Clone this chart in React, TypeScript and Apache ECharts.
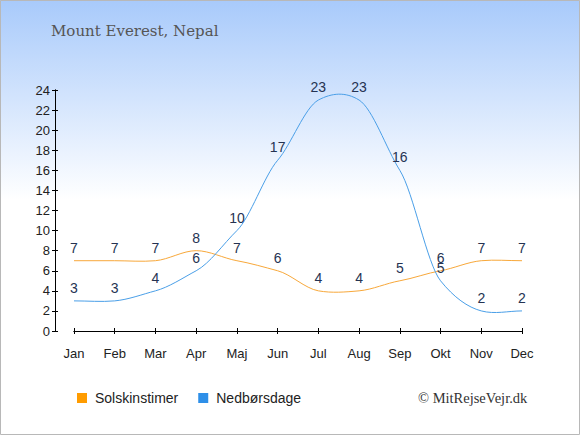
import React, { useEffect, useRef } from "react";
import * as echarts from "echarts";

const months = ["Jan", "Feb", "Mar", "Apr", "Maj", "Jun", "Jul", "Aug", "Sep", "Okt", "Nov", "Dec"];
const sunHours = [7, 7, 7, 8, 7, 6, 4, 4, 5, 6, 7, 7];
const rainDays = [3, 3, 4, 6, 10, 17, 23, 23, 16, 5, 2, 2];
const yTicks = { min: 0, max: 24, interval: 2 };
const titleText = "Mount Everest, Nepal";
const sunName = "Solskinstimer";
const rainName = "Nedbørsdage";
const copyright = "© MitRejseVejr.dk";

const SANS = "'Liberation Sans', Arial, sans-serif";
const SERIF = "'DejaVu Serif', 'Liberation Serif', serif";
const SERIF2 = "'Liberation Serif', serif";

const SUN_COLOR = "#ff9c00";
const SUN_LINE = "#f8a83a";
const RAIN_COLOR = "#2e8fe8";
const RAIN_LINE = "#4a9fe8";
const TENSION = 0.12;

function curveRenderer(values: number[], stroke: string) {
  return (params: any, api: any) => {
    if (params.dataIndex !== 0) return null;
    const pts = values.map((v, i) => api.coord([i, v]));
    const n = pts.length;
    let d = `M${pts[0][0]},${pts[0][1]}`;
    for (let i = 0; i < n - 1; i++) {
      const p0 = pts[Math.max(0, i - 1)];
      const p1 = pts[i];
      const p2 = pts[i + 1];
      const p3 = pts[Math.min(n - 1, i + 2)];
      const dx = (p2[0] - p1[0]) / 3;
      const c1x = p1[0] + dx;
      const c1y = p1[1] + (p2[1] - p0[1]) * TENSION;
      const c2x = p2[0] - dx;
      const c2y = p2[1] - (p3[1] - p1[1]) * TENSION;
      d += ` C${c1x},${c1y} ${c2x},${c2y} ${p2[0]},${p2[1]}`;
    }
    return {
      type: "path",
      shape: { pathData: d },
      style: { fill: "none", stroke, lineWidth: 1 },
      silent: true,
    };
  };
}

export default function App() {
  const ref = useRef<HTMLDivElement>(null);
  useEffect(() => {
    document.body.style.margin = "0";
    const chart = echarts.init(ref.current!, null, { renderer: "svg" });
    const xBase = {
      type: "category" as const,
      data: months,
      boundaryGap: false,
      position: "bottom" as const,
      offset: 10,
      axisLine: { lineStyle: { color: "#000", width: 1 } },
      splitLine: { show: false },
    };
    const yBase = {
      type: "value" as const,
      min: yTicks.min,
      max: yTicks.max,
      interval: yTicks.interval,
      position: "left" as const,
      offset: 19,
      axisLine: { show: true, lineStyle: { color: "#000", width: 1 } },
      splitLine: { show: false },
    };
    const labelStyle = {
      show: true,
      position: "top" as const,
      distance: 6,
      color: "#253352",
      fontSize: 14,
      fontFamily: SANS,
    };
    chart.setOption({
      animation: false,
      backgroundColor: {
        type: "linear",
        x: 0, y: 0, x2: 0, y2: 1,
        colorStops: [
          { offset: 0, color: "#a8cafb" },
          { offset: 0.46, color: "#ffffff" },
          { offset: 1, color: "#ffffff" },
        ],
      },
      grid: { left: 74, right: 58, top: 90, bottom: 104, containLabel: false },
      xAxis: [
        {
          ...xBase,
          axisTick: { show: true, length: 3, inside: false, lineStyle: { color: "#000" } },
          axisLabel: { color: "#222", fontSize: 13, fontFamily: SANS, margin: 6 },
        },
        {
          ...xBase,
          axisTick: { show: true, length: 3, inside: true, lineStyle: { color: "#000" } },
          axisLabel: { show: false },
        },
      ],
      yAxis: [
        {
          ...yBase,
          axisTick: { show: true, length: 3, inside: false, lineStyle: { color: "#000" } },
          axisLabel: { color: "#222", fontSize: 13, fontFamily: SANS, margin: 5 },
        },
        {
          ...yBase,
          axisTick: { show: true, length: 3, inside: true, lineStyle: { color: "#000" } },
          axisLabel: { show: false },
        },
      ],
      legend: {
        left: 72,
        top: 386,
        itemWidth: 10,
        itemHeight: 10,
        itemGap: 20,
        icon: "rect",
        textStyle: { color: "#222", fontSize: 14, fontFamily: SANS, padding: [0, 0, 0, 3] },
        data: [
          { name: sunName, itemStyle: { color: SUN_COLOR } },
          { name: rainName, itemStyle: { color: RAIN_COLOR } },
        ],
      },
      graphic: [
        {
          type: "rect",
          shape: { x: 0.5, y: 0.5, width: 579, height: 434 },
          style: { fill: "none", stroke: "#b8b8b8", lineWidth: 1 },
          silent: true,
        },
        {
          type: "text",
          left: 51,
          top: 23,
          style: { text: titleText, fill: "#555", font: `15px ${SERIF}` },
        },
        {
          type: "text",
          left: 418,
          top: 390,
          style: { text: copyright, fill: "#333", font: `14.5px ${SERIF2}` },
        },
      ],
      series: [
        {
          name: sunName,
          type: "line",
          data: sunHours,
          symbol: "circle",
          symbolSize: 0.01,
          showSymbol: true,
          color: SUN_COLOR,
          itemStyle: { color: SUN_COLOR },
          lineStyle: { opacity: 0 },
          label: labelStyle,
          z: 4,
        },
        {
          name: rainName,
          type: "line",
          data: rainDays,
          symbol: "circle",
          symbolSize: 0.01,
          showSymbol: true,
          color: RAIN_COLOR,
          itemStyle: { color: RAIN_COLOR },
          lineStyle: { opacity: 0 },
          label: labelStyle,
          z: 4,
        },
        {
          name: sunName + "-curve",
          type: "custom",
          data: sunHours.map((v, i) => [i, v]),
          renderItem: curveRenderer(sunHours, SUN_LINE),
          z: 3,
        },
        {
          name: rainName + "-curve",
          type: "custom",
          data: rainDays.map((v, i) => [i, v]),
          renderItem: curveRenderer(rainDays, RAIN_LINE),
          z: 3,
        },
      ],
    });
    return () => chart.dispose();
  }, []);
  return <div ref={ref} style={{ position: "absolute", left: 0, top: 0, width: 580, height: 435 }} />;
}
